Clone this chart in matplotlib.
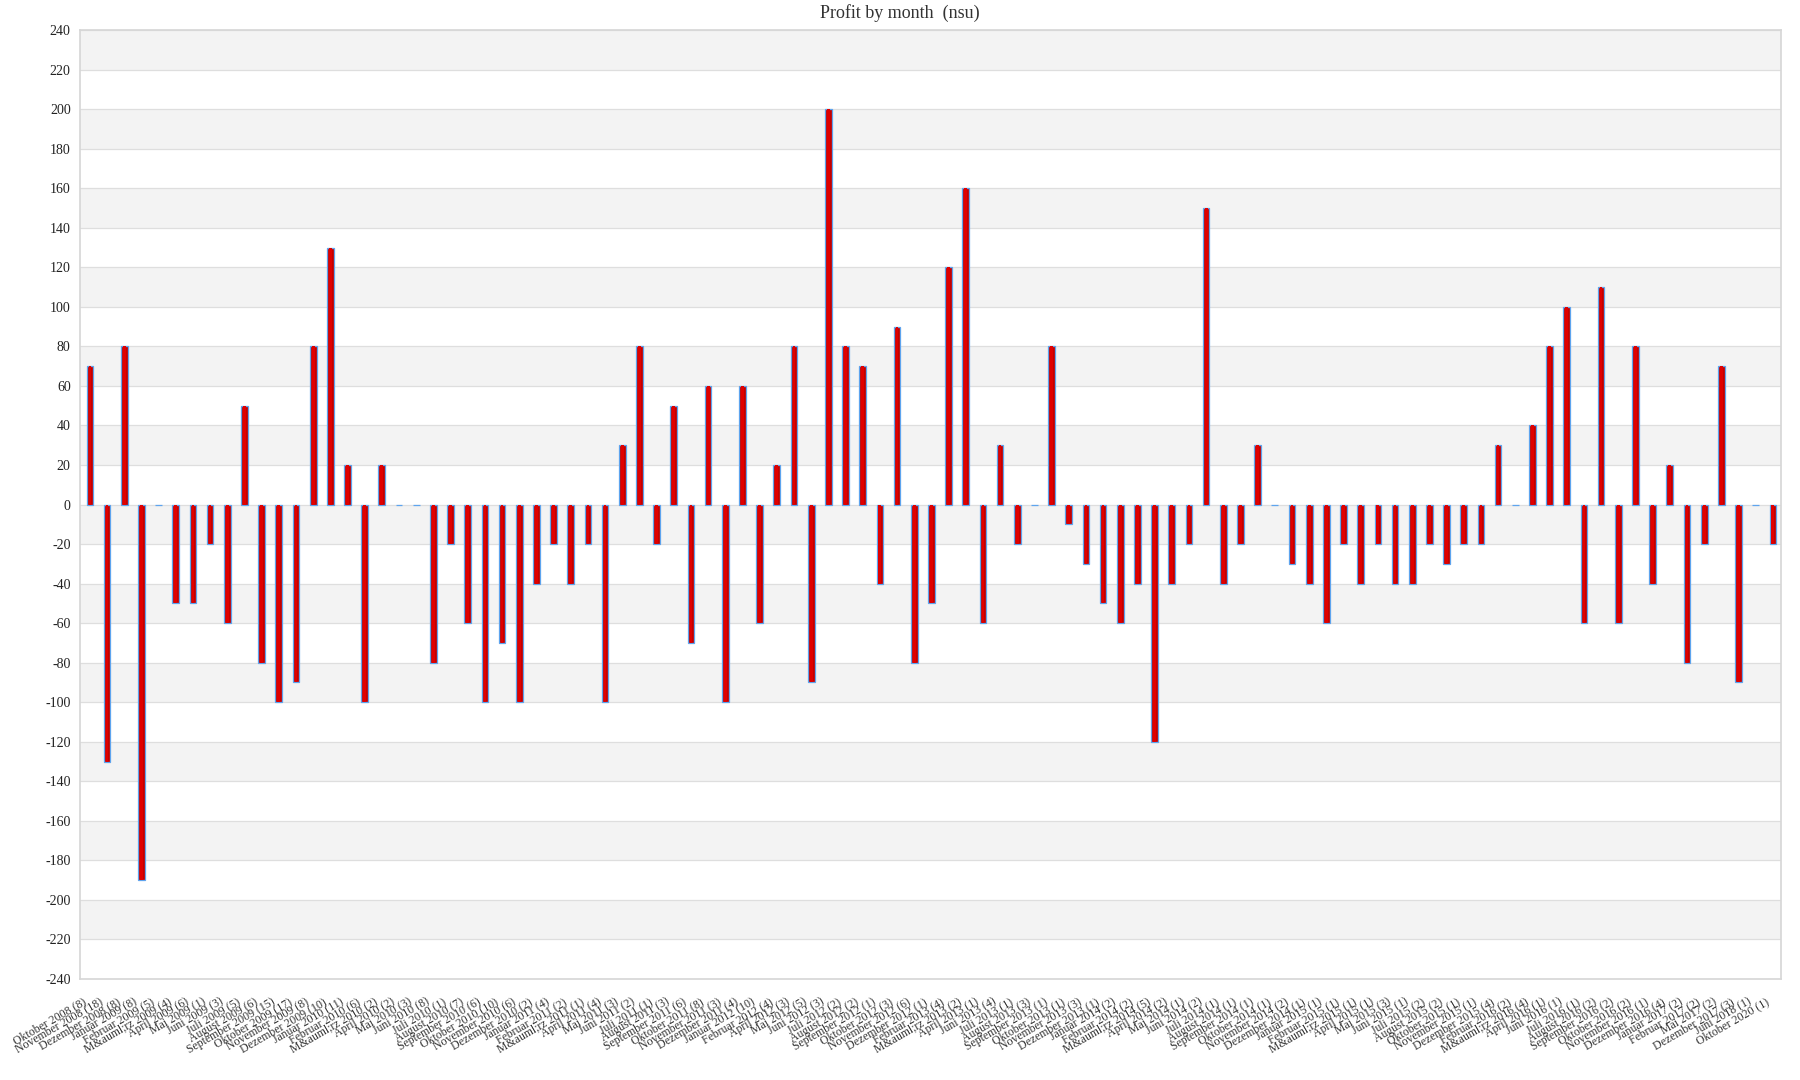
import matplotlib
matplotlib.use("Agg")
import matplotlib.pyplot as plt
from matplotlib.transforms import ScaledTranslation

# month labels (the source shows the raw "M&auml;rz" entity)
months = [
    "Oktober 2008", "November 2008", "Dezember 2008", "Januar 2009", "Februar 2009",
    "M&auml;rz 2009", "April 2009", "Mai 2009", "Juni 2009", "Juli 2009",
    "August 2009", "September 2009", "Oktober 2009", "November 2009", "Dezember 2009",
    "Januar 2010", "Februar 2010", "M&auml;rz 2010", "April 2010", "Mai 2010",
    "Juni 2010", "Juli 2010", "August 2010", "September 2010", "Oktober 2010",
    "November 2010", "Dezember 2010", "Januar 2011", "Februar 2011", "M&auml;rz 2011",
    "April 2011", "Mai 2011", "Juni 2011", "Juli 2011", "August 2011",
    "September 2011", "Oktober 2011", "November 2011", "Dezember 2011", "Januar 2012",
    "Februar 2012", "April 2012", "Mai 2012", "Juni 2012", "Juli 2012",
    "August 2012", "September 2012", "Oktober 2012", "November 2012", "Dezember 2012",
    "Februar 2013", "M&auml;rz 2013", "April 2013", "Juni 2013", "Juli 2013",
    "August 2013", "September 2013", "Oktober 2013", "November 2013", "Dezember 2013",
    "Januar 2014", "Februar 2014", "M&auml;rz 2014", "April 2014", "Mai 2014",
    "Juni 2014", "Juli 2014", "August 2014", "September 2014", "Oktober 2014",
    "November 2014", "Dezember 2014", "Januar 2015", "Februar 2015", "M&auml;rz 2015",
    "April 2015", "Mai 2015", "Juni 2015", "Juli 2015", "August 2015",
    "Oktober 2015", "November 2015", "Dezember 2015", "Februar 2016", "M&auml;rz 2016",
    "April 2016", "Juni 2016", "Juli 2016", "August 2016", "September 2016",
    "Oktober 2016", "November 2016", "Dezember 2016", "Januar 2017", "Februar 2017",
    "Mai 2017", "Dezember 2017", "Juni 2018", "Oktober 2020",
]

counts = [
    8, 18, 8, 8, 5, 4, 6, 1, 3, 5,
    6, 15, 17, 8, 10, 11, 6, 2, 2, 3,
    8, 1, 7, 6, 10, 6, 2, 4, 2, 1,
    4, 3, 2, 1, 3, 6, 8, 3, 4, 10,
    4, 3, 5, 3, 2, 2, 1, 3, 6, 1,
    4, 2, 1, 4, 1, 3, 1, 1, 3, 1,
    2, 2, 5, 2, 1, 2, 1, 1, 1, 1,
    2, 1, 1, 1, 1, 1, 3, 1, 2, 2,
    1, 1, 4, 2, 4, 1, 1, 1, 2, 2,
    2, 1, 4, 2, 2, 2, 3, 1, 1,
]

profit = [
    70, -130, 80, -190, 0, -50, -50, -20, -60, 50,
    -80, -100, -90, 80, 130, 20, -100, 20, 0, 0,
    -80, -20, -60, -100, -70, -100, -40, -20, -40, -20,
    -100, 30, 80, -20, 50, -70, 60, -100, 60, -60,
    20, 80, -90, 200, 80, 70, -40, 90, -80, -50,
    120, 160, -60, 30, -20, 0, 80, -10, -30, -50,
    -60, -40, -120, -40, -20, 150, -40, -20, 30, 0,
    -30, -40, -60, -20, -40, -20, -40, -40, -20, -30,
    -20, -20, 30, 0, 40, 80, 100, -60, 110, -60,
    80, -40, 20, -80, -20, 70, -90, 0, -20,
]

labels = [f"{m} ({c})" for m, c in zip(months, counts)]
y_ticks = list(range(-240, 241, 20))

serif = ["Liberation Serif", "DejaVu Serif"]

fig = plt.figure(figsize=(18, 10.8), dpi=100)
ax = fig.add_axes([0.0447, 0.0935, 0.9447, 0.8787])

# alternating horizontal bands
for lo in range(-220, 240, 40):
    ax.axhspan(lo, lo + 20, color="#f3f3f3", zorder=0, lw=0)
for y in y_ticks:
    ax.axhline(y, color="#dedede", lw=0.9, zorder=1)

x = list(range(len(profit)))
ax.bar(x, profit, width=0.39, color="#c40000", edgecolor="#5ea4ee",
       linewidth=0.9, zorder=3)
# brighter centre stripe to mimic the gradient fill
ax.bar(x, profit, width=0.16, color="#e00000", linewidth=0, zorder=4)

ax.set_xlim(-0.55, len(profit) - 0.53)
ax.set_ylim(-240, 240)
ax.set_yticks(y_ticks)
ax.set_yticklabels([str(v) for v in y_ticks], fontfamily=serif, fontsize=10, color="#222222")
ax.set_xticks(x)
ax.set_xticklabels(labels, rotation=30, ha="right", va="top", rotation_mode="anchor",
                   fontfamily=serif, fontsize=8.5, color="#333333")
ax.tick_params(axis="both", length=0)
ax.tick_params(axis="y", pad=7)
ax.tick_params(axis="x", pad=12)

shift = ScaledTranslation(-8 / 100, 0, fig.dpi_scale_trans)
for lab in ax.get_xticklabels():
    lab.set_transform(lab.get_transform() + shift)

for side in ["left", "right", "top", "bottom"]:
    ax.spines[side].set_color("#d6d6d6")
    ax.spines[side].set_linewidth(1.2)

fig.text(0.5, 1 - 13 / 1080, "Profit by month  (nsu)", ha="center", va="center",
         fontfamily=serif, fontsize=13, color="#333333")

fig.savefig("out.png", dpi=100, facecolor="white")
